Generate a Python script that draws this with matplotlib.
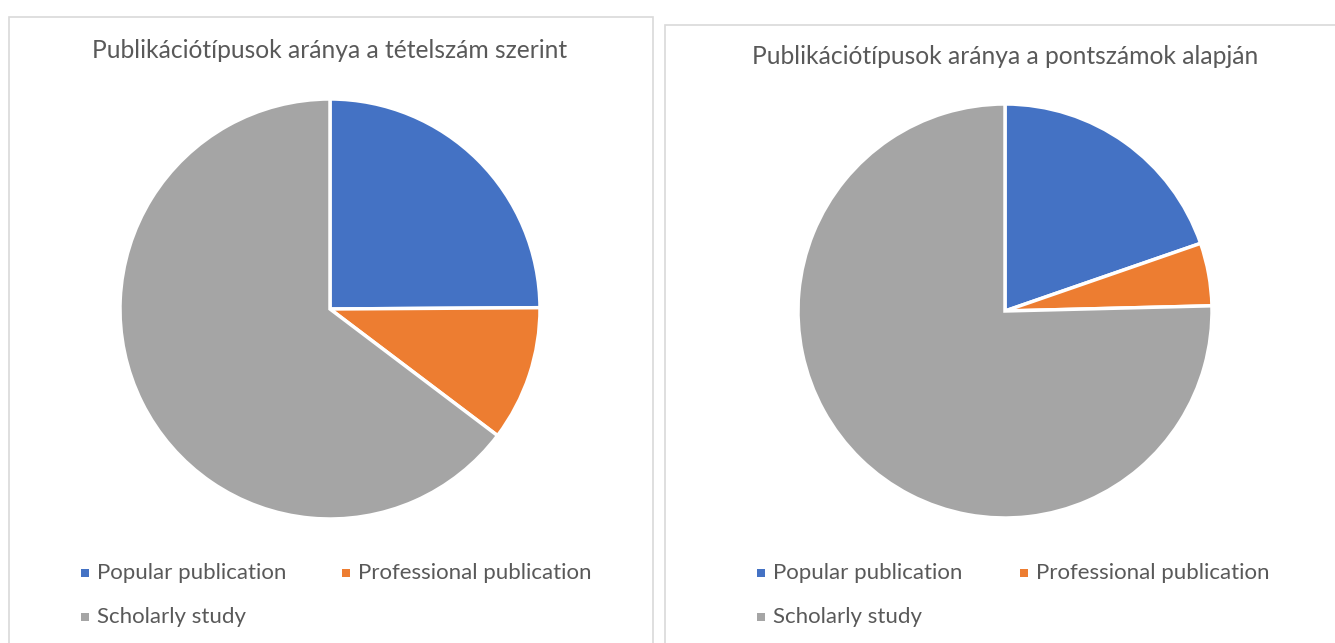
import matplotlib.pyplot as plt
from matplotlib.patches import Rectangle

labels = ["Popular publication", "Professional publication", "Scholarly study"]
colors = ["#4472C4", "#ED7D31", "#A5A5A5"]

left_title = "Publikációtípusok aránya a tételszám szerint"
left_values = [24.9, 10.4, 64.7]

right_title = "Publikációtípusok aránya a pontszámok alapján"
right_values = [19.7, 4.9, 75.4]

W, H = 1335, 643
plt.rcParams['font.family'] = ['Lato', 'DejaVu Sans']
fig = plt.figure(figsize=(W / 100, H / 100), dpi=100)
fig.patch.set_facecolor("white")


def px(x, y):
    return x / W, 1 - y / H


def panel(box, center, radius, title, title_y, values, legend_x, legend_y):
    x0, y0, x1, y1 = box
    fig.patches.append(Rectangle((x0 / W, 1 - y1 / H), (x1 - x0) / W, (y1 - y0) / H,
                                 transform=fig.transFigure, facecolor="none",
                                 edgecolor="#D9D9D9", linewidth=1.2, zorder=-1))
    cx, cy = center
    ax = fig.add_axes([(cx - radius) / W, 1 - (cy + radius) / H, 2 * radius / W, 2 * radius / H])
    ax.pie(values, colors=colors, startangle=90, counterclock=False, radius=1,
           wedgeprops=dict(edgecolor="white", linewidth=2.5))
    ax.set_xlim(-1, 1)
    ax.set_ylim(-1, 1)
    ax.set_aspect("equal")
    ax.axis("off")
    tx, ty = px(cx, title_y)
    fig.text(tx, ty, title, ha="center", va="center", fontsize=17.7, color="#595959")
    positions = [(legend_x[0], legend_y[0]), (legend_x[1], legend_y[0]), (legend_x[0], legend_y[1])]
    for (lx, ly), lab, col in zip(positions, labels, colors):
        sx, sy = px(lx, ly + 4)
        fig.patches.append(Rectangle((sx, sy), 8 / W, 8 / H, transform=fig.transFigure,
                                     facecolor=col, edgecolor="none"))
        tx, ty = px(lx + 16, ly)
        fig.text(tx, ty, lab, ha="left", va="center", fontsize=16, color="#595959")


panel((9, 17, 653, 660), (330, 309), 210, left_title, 50, left_values, (81, 342), (573, 617))
panel((665, 25, 1350, 660), (1005, 311), 207, right_title, 56, right_values, (757, 1020), (573, 617))

fig.savefig("out.png", dpi=100)
